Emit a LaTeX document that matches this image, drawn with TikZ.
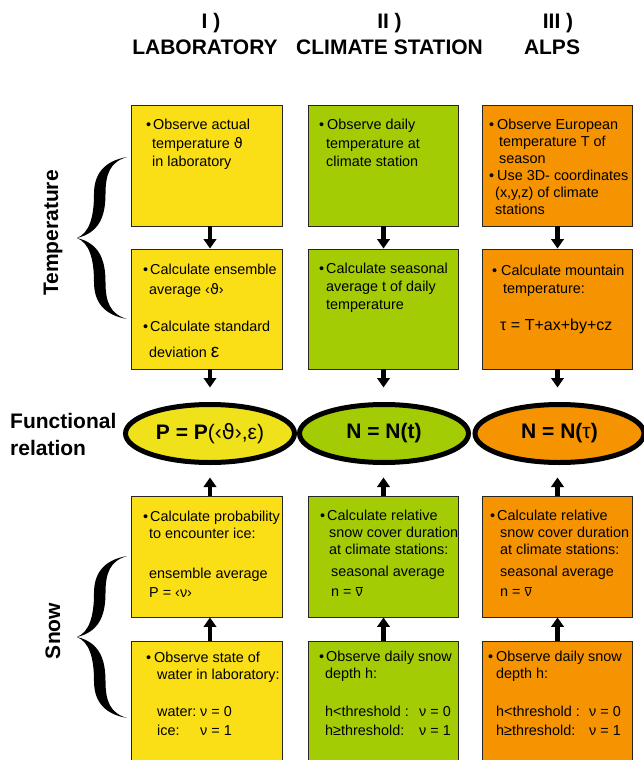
\documentclass[tikz,border=0pt]{standalone}
\usepackage{fontspec}
\setmainfont{Liberation Sans}
\newfontfamily\dvs{DejaVu Sans}
\usetikzlibrary{arrows.meta,shapes.geometric,calc}
\definecolor{ybox}{HTML}{FADE16}
\definecolor{yell}{HTML}{F0E21A}
\definecolor{gbox}{HTML}{A3CC05}
\definecolor{obox}{HTML}{F59300}
\newcommand\firstln{\rule{0pt}{13pt}}
\newcommand\mybul[1]{\makebox[#1][l]{•}}
\newcommand\nubar{$\overline{\mbox{ν}}$}
\begin{document}
\begin{tikzpicture}[x=1pt,y=-1pt,
  boxst/.style={draw=black!85, line width=0.9pt, minimum width=150.5pt, inner sep=0pt},
  txt/.style={anchor=north west, align=left, inner sep=0pt, font=\fontsize{14.4}{18.5}\selectfont},
  ell/.style={ellipse, draw=black, line width=5pt, minimum width=169pt, minimum height=58pt, inner sep=0pt, font=\bfseries\fontsize{21}{21}\selectfont},
  arr/.style={line width=4.5pt, -{Triangle[width=12.5pt,length=9.5pt]}},
  hd/.style={anchor=base, inner sep=0pt, font=\bfseries\fontsize{21}{21}\selectfont},
  sd/.style={inner sep=0pt, font=\bfseries\fontsize{21}{21}\selectfont}
]
\useasboundingbox (0,0) rectangle (643,760);

% headers
\node[hd] (h1a) at (211,29) {I )};
\node[hd] (h1b) at (205,55) {LABORATORY};
\node[hd] (h2a) at (389.5,29) {II )};
\node[hd] (h2b) at (389.5,55) {CLIMATE STATION};
\node[hd] (h3a) at (558,29) {III )};
\node[hd] (h3b) at (552,55) {ALPS};

% left labels
\node[sd, rotate=90] (lt) at (53,233) {Temperature};
\node[sd, rotate=90] (ls) at (53,631) {Snow};
\node[sd, anchor=base west] (fr1) at (10,428) {Functional};
\node[sd, anchor=base west] (fr2) at (10,455) {relation};

% braces
\foreach \by in {238,637}{
\begin{scope}[shift={(77,\by)}]
\fill (50,-81) .. controls (27,-77) and (17,-64) .. (17,-44) .. controls (17,-20) and (12,-5) .. (0,0) .. controls (21,-5) and (28.5,-20) .. (28.5,-44) .. controls (28.5,-64) and (33,-76) .. (50,-81) -- cycle;
\fill (50,81) .. controls (27,77) and (17,64) .. (17,44) .. controls (17,20) and (12,5) .. (0,0) .. controls (21,5) and (28.5,20) .. (28.5,44) .. controls (28.5,64) and (33,76) .. (50,81) -- cycle;
\end{scope}}

% boxes
\node[boxst, fill=ybox, minimum height=121pt] (T1) at (207,165.5) {};
\node[boxst, fill=ybox, minimum height=120pt] (T2) at (207,309) {};
\node[boxst, fill=gbox, minimum height=121pt] (C1) at (383.5,165.5) {};
\node[boxst, fill=gbox, minimum height=120pt] (C2) at (383.5,309) {};
\node[boxst, fill=obox, minimum height=121pt] (A1) at (557.5,165.5) {};
\node[boxst, fill=obox, minimum height=120pt] (A2) at (557.5,309) {};
\node[boxst, fill=ybox, minimum height=121pt] (S1) at (207,556.5) {};
\node[boxst, fill=ybox, minimum height=124pt] (S2) at (207,703) {};
\node[boxst, fill=gbox, minimum height=121pt] (S3) at (383.5,556.5) {};
\node[boxst, fill=gbox, minimum height=124pt] (S4) at (383.5,703) {};
\node[boxst, fill=obox, minimum height=121pt] (S5) at (557.5,556.5) {};
\node[boxst, fill=obox, minimum height=124pt] (S6) at (557.5,703) {};

% ellipses
\node[ell, fill=yell] (E1) at (210,433.5) {P = P\mdseries(‹{\dvs ϑ}›,ε)};
\node[ell, fill=gbox] (E2) at (384,433.5) {N = N(t)};
\node[ell, fill=obox] (E3) at (559.5,433.5) {N = N(\mdseries τ\bfseries)};

% texts
\node[txt] (tT1) at (146,116.5) {\firstln\mybul{7pt}Observe actual\\
\hspace*{6pt}temperature {\dvs ϑ}\\
\hspace*{6pt}in laboratory};
\node[txt] (tT2) at (143,261) {\firstln\mybul{7pt}Calculate ensemble\\[1.5pt]
\hspace*{6pt}average ‹{\dvs ϑ}›\\[18.5pt]
\mybul{7pt}Calculate standard\\[7.5pt]
\hspace*{6pt}deviation {\fontsize{19}{18.5}\selectfont ε}};
\node[txt] (tC1) at (319,116.5) {\firstln\mybul{8pt}Observe daily\\
\hspace*{7pt}temperature at\\
\hspace*{7pt}climate station};
\node[txt] (tC2) at (319,260) {\firstln\mybul{7pt}Calculate seasonal\\[-0.5pt]
\hspace*{7pt}average t of daily\\[-0.5pt]
\hspace*{7pt}temperature};
\node[txt] (tA1) at (489,116) {\firstln\mybul{8pt}Observe European\\[-1.5pt]
\hspace*{10pt}temperature T of\\[-1.5pt]
\hspace*{10pt}season\\[-1.5pt]
\mybul{8pt}Use 3D- coordinates\\[-1.5pt]
\hspace*{6pt}(x,y,z) of climate\\[-1.5pt]
\hspace*{6pt}stations};
\node[txt] (tA2) at (492,262) {\firstln\mybul{9pt}Calculate mountain\\[-0.5pt]
\hspace*{11pt}temperature:\\[18.5pt]
\hspace*{8pt}{\fontsize{16}{18.5}\selectfont τ = T+ax+by+cz}};
\node[txt] (tS1) at (143,508) {\firstln\mybul{7pt}Calculate probability\\[-1.5pt]
\hspace*{6pt}to encounter ice:\\[21.5pt]
\hspace*{6pt}ensemble average\\[0.5pt]
\hspace*{6pt}P = ‹ν›};
\node[txt] (tS2) at (146,649) {\firstln\mybul{8pt}Observe state of\\[-1.5pt]
\hspace*{11pt}water in laboratory:\\[18.5pt]
\hspace*{11pt}\makebox[43pt][l]{water:}ν = 0\\[0.5pt]
\hspace*{11pt}\makebox[43pt][l]{ice:}ν = 1};
\node[txt] (tS3) at (320,507) {\firstln\mybul{7pt}Calculate relative\\[-1.5pt]
\hspace*{9pt}snow cover duration\\[-1.5pt]
\hspace*{9pt}at climate stations:\\[3.5pt]
\hspace*{11pt}seasonal average\\[1.5pt]
\hspace*{11pt}n = \nubar};
\node[txt] (tS4) at (319,648) {\firstln\mybul{7pt}Observe daily snow\\[-1.5pt]
\hspace*{6pt}depth h:\\[19.5pt]
\hspace*{6pt}\makebox[94pt][l]{h<threshold :}ν = 0\\[0.5pt]
\hspace*{6pt}\makebox[94pt][l]{h≥threshold:}ν = 1};
\node[txt] (tS5) at (490,507) {\firstln\mybul{7pt}Calculate relative\\[-1.5pt]
\hspace*{10pt}snow cover duration\\[-1.5pt]
\hspace*{10pt}at climate stations:\\[3.5pt]
\hspace*{10pt}seasonal average\\[1.5pt]
\hspace*{10pt}n = \nubar};
\node[txt] (tS6) at (488,648) {\firstln\mybul{8pt}Observe daily snow\\[-1.5pt]
\hspace*{8pt}depth h:\\[19.5pt]
\hspace*{8pt}\makebox[93pt][l]{h<threshold :}ν = 0\\[0.5pt]
\hspace*{8pt}\makebox[93pt][l]{h≥threshold:}ν = 1};

% arrows
\draw[arr] (T1.south -| E1) -- (T2.north -| E1);
\draw[arr] (C1.south) -- (C2.north);
\draw[arr] (A1.south) -- (A2.north);
\draw[arr, shorten >=14.5pt] (T2.south -| E1) -- (E1.north);
\draw[arr, shorten >=14.5pt] (C2.south) -- (C2.south |- E2.north);
\draw[arr, shorten >=14.5pt] (A2.south) -- (A2.south |- E3.north);
\draw[arr, shorten >=12.5pt] (S1.north -| E1) -- (E1.south);
\draw[arr, shorten >=12.5pt] (S3.north) -- (S3.north |- E2.south);
\draw[arr, shorten >=12.5pt] (S5.north) -- (S5.north |- E3.south);
\draw[arr] (S2.north -| E1) -- (S1.south -| E1);
\draw[arr] (S4.north) -- (S3.south);
\draw[arr] (S6.north) -- (S5.south);
\end{tikzpicture}
\end{document}
